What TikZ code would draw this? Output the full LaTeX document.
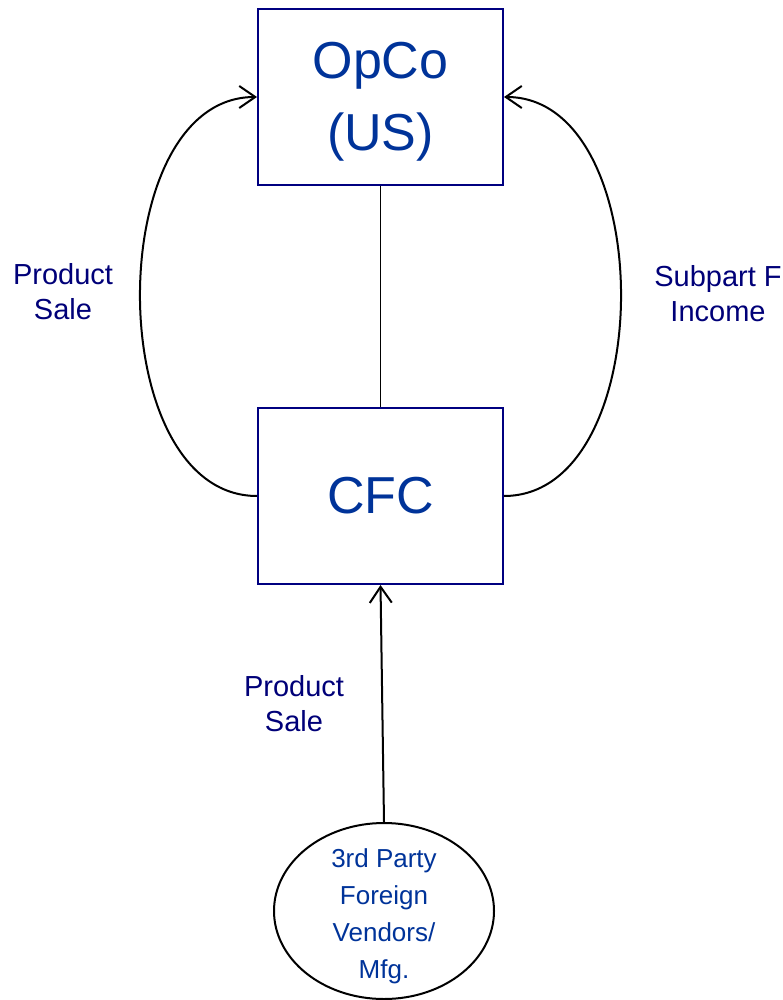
\documentclass[tikz,border=0pt]{standalone}
\usepackage{fontspec}
\setmainfont{Liberation Sans}
\usepackage{tikz}
\usetikzlibrary{arrows.meta,shapes.geometric,positioning}
\definecolor{entitynavy}{RGB}{0,0,128}
\definecolor{entityblue}{RGB}{0,51,153}
\definecolor{labelnavy}{RGB}{0,0,120}

\begin{document}
\begin{tikzpicture}[x=1pt,y=-1pt,
    >={Straight Barb[length=16pt,width=22pt]},
    entity/.style={draw=entitynavy,line width=2pt,minimum width=245pt,minimum height=176pt,
      text=entityblue,align=center,font=\fontsize{52}{72}\selectfont},
    entitytext/.style={text=entityblue,align=center,inner sep=0pt},
    flowlabel/.style={text=labelnavy,align=center,inner sep=0pt,font=\fontsize{29}{35}\selectfont},
    flow/.style={line width=2pt}]
    \useasboundingbox (0,0) rectangle (783,1000);
    \node[entity] (opco) at (380.5,97) {};
    \node[entitytext,font=\fontsize{52}{72}\selectfont] (opcotext) at (380.5,102) {OpCo\\(US)};
    \node[entity] (cfc) at (380.5,496) {CFC};
    \node[draw,ellipse,line width=2pt,minimum width=220pt,minimum height=176pt] (vendor) at (384,911) {};
    \node[entitytext,font=\fontsize{26}{37}\selectfont] (vendortext) at (384,916) {3rd Party\\Foreign\\Vendors/\\Mfg.};
    \draw[line width=1.8pt] (opco) -- (cfc);
    \draw[flow,->] (cfc.west) to[out=180,in=180] (opco.west);
    \draw[flow,->] (cfc.east) to[out=0,in=0] (opco.east);
    \draw[flow,->] (vendor.north) -- (cfc.south);
    \node[flowlabel] (salelabel) at (63,292) {Product\\Sale};
    \node[flowlabel] (incomelabel) at (718,294) {Subpart F\\Income};
    \node[flowlabel] (vendorlabel) at (294,704) {Product\\Sale};
\end{tikzpicture}
\end{document}
